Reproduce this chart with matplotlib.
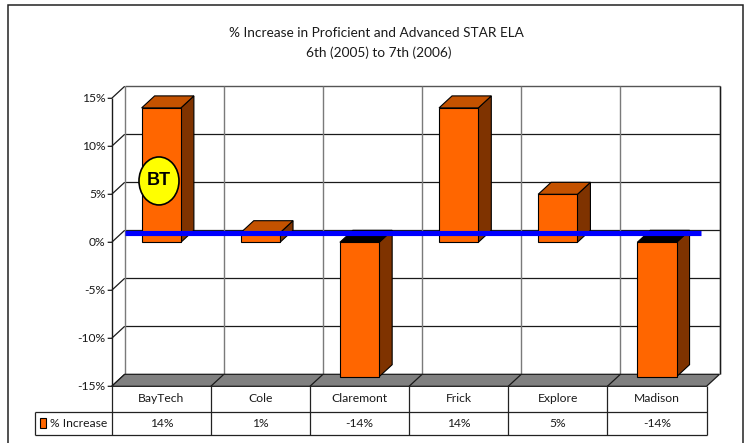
import matplotlib
matplotlib.use("Agg")
import matplotlib.pyplot as plt
from matplotlib.patches import Polygon, Rectangle, Ellipse
from matplotlib.transforms import offset_copy

# ---- data ----
categories = ["BayTech", "Cole", "Claremont", "Frick", "Explore", "Madison"]
pct_increase = [14, 1, -14, 14, 5, -14]
series_name = "% Increase"
y_ticks = [15, 10, 5, 0, -5, -10, -15]
title_lines = ["% Increase in Proficient and Advanced STAR ELA", "6th (2005) to 7th (2006)"]
marker_label = "BT"

# ---- style ----
FONT = ["Lato", "DejaVu Sans"]
FRONT = "#FF6600"
TOP = "#C45200"
SIDE = "#7F3300"
FLOOR = "#808080"
BLUE = "#0000FF"

W, H = 749, 443
fig = plt.figure(figsize=(W / 100, H / 100), dpi=100)
fig.patch.set_facecolor("white")

left_px, right_px = 111.7, 706.5
top_px, bot_px = 98.3, 386.3
ax = fig.add_axes([left_px / W, 1 - bot_px / H, (right_px - left_px) / W, (bot_px - top_px) / H])
ax.set_xlim(0, len(categories))
ax.set_ylim(-15, 15)
ax.axis("off")

px_x = (right_px - left_px) / len(categories)   # pixels per category
px_y = (bot_px - top_px) / 30.0                 # pixels per percent
DX = 13 / px_x
DY = 12 / px_y
n = len(categories)

def poly(pts, fc, ec="black", lw=0.8, z=2):
    ax.add_patch(Polygon(pts, closed=True, facecolor=fc, edgecolor=ec, linewidth=lw,
                         clip_on=False, zorder=z, joinstyle="miter"))

def line(xs, ys, c="black", lw=0.9, z=1.5):
    ax.plot(xs, ys, color=c, lw=lw, clip_on=False, zorder=z, solid_capstyle="butt")

# back wall
poly([(DX, -15 + DY), (n + DX, -15 + DY), (n + DX, 15 + DY), (DX, 15 + DY)], "white", ec="none", z=0.5)
for v in y_ticks[1:-1]:
    line([DX, n + DX], [v + DY, v + DY], c="#1a1a1a", lw=0.9, z=1)
line([DX, n + DX], [15 + DY, 15 + DY], c="#555555", lw=1.0, z=1)
for i in range(n + 1):
    line([i + DX, i + DX], [-15 + DY, 15 + DY], c="#7a7a7a", lw=1.0, z=1)
line([n + DX, n + DX], [-15 + DY, 15 + DY], c="#1a1a1a", lw=1.0, z=1.1)

# left wall / axis
line([0, 0], [-15, 15], c="#1a1a1a", lw=1.0, z=1.2)
tick_len = 4 / px_x
for v in y_ticks:
    line([-tick_len, 0, DX], [v, v, v + DY], c="#1a1a1a", lw=0.9, z=1.2)
lab_tr = offset_copy(ax.transData, fig=fig, x=-6, y=0, units="dots")
for v in y_ticks:
    ax.text(0, v, f"{v}%", transform=lab_tr, ha="right", va="center",
            fontsize=8.7, family=FONT, color="#1a1a1a")

# floor
poly([(0, -15), (n, -15), (n + DX, -15 + DY), (DX, -15 + DY)], FLOOR, ec="#1a1a1a", lw=0.9, z=1.3)
for i in range(1, n):
    line([i, i + DX], [-15, -15 + DY], c="#1a1a1a", lw=0.9, z=1.4)

# bars
hw = 0.198
for i, v in enumerate(pct_increase):
    c = i + 0.5
    yt = max(v, 0)
    # side
    poly([(c + hw, 0), (c + hw, v), (c + hw + DX, v + DY), (c + hw + DX, DY)], SIDE, z=2)
    # top
    poly([(c - hw, yt), (c + hw, yt), (c + hw + DX, yt + DY), (c - hw + DX, yt + DY)],
         TOP if v > 0 else "black", z=2)
    # front
    ax.bar(c, v, width=2 * hw, bottom=0, color=FRONT, edgecolor="black", linewidth=0.8,
           zorder=2.1, clip_on=False)

# blue reference line
ax.plot([DX, n - 0.06], [0.95, 0.95], color=BLUE, lw=3.7, zorder=3, solid_capstyle="butt")

# BT marker
ax.add_patch(Ellipse((0.477, 6.39), 40 / px_x, 48 / px_y, facecolor="#FFFF00",
                     edgecolor="black", linewidth=1.2, zorder=4, clip_on=False))
ax.text(0.477, 6.39, marker_label, ha="center", va="center", fontsize=13,
        fontweight="bold", family=["Liberation Sans", "DejaVu Sans"], zorder=5)

# data table
r1 = -15 - 25.4 / px_y
r2 = r1 - 23.0 / px_y
leg_left = (35 - left_px) / px_x
tc = "#222222"
line([0, n], [r1, r1], c=tc, lw=0.9)
line([leg_left, n], [r2, r2], c=tc, lw=0.9)
line([leg_left, 0], [r1, r1], c=tc, lw=0.9)
line([leg_left, leg_left], [r1, r2], c=tc, lw=0.9)
for i in range(n + 1):
    line([i, i], [-15, r2], c=tc, lw=0.9)
for i, (cat, v) in enumerate(zip(categories, pct_increase)):
    ax.text(i + 0.5, (-15 + r1) / 2, cat, ha="center", va="center", fontsize=8.7,
            family=FONT, color="#1a1a1a")
    ax.text(i + 0.5, (r1 + r2) / 2, f"{v}%", ha="center", va="center", fontsize=8.7,
            family=FONT, color="#1a1a1a")
ax.add_patch(Rectangle(((39.5 - left_px) / px_x, (r1 + r2) / 2 - 4.7 / px_y), 6.5 / px_x, 9.4 / px_y,
                       facecolor=FRONT, edgecolor="black", linewidth=0.8, clip_on=False))
ax.text((50 - left_px) / px_x, (r1 + r2) / 2, series_name, ha="left", va="center",
        fontsize=8.7, family=FONT, color="#1a1a1a")

# title
fig.text(376.5 / W, 1 - 33 / H, title_lines[0], ha="center", va="center", fontsize=9.8,
         family=FONT, color="#1a1a1a")
fig.text(379 / W, 1 - 53 / H, title_lines[1], ha="center", va="center", fontsize=9.8,
         family=FONT, color="#1a1a1a")

# outer frame
fig.add_artist(Rectangle((8 / W, -0.02), (743.3 - 8) / W, 1.02 - 4.7 / H, transform=fig.transFigure,
                         fill=False, edgecolor="#222222", linewidth=1.1))

fig.savefig("out.png", dpi=100, facecolor="white")
